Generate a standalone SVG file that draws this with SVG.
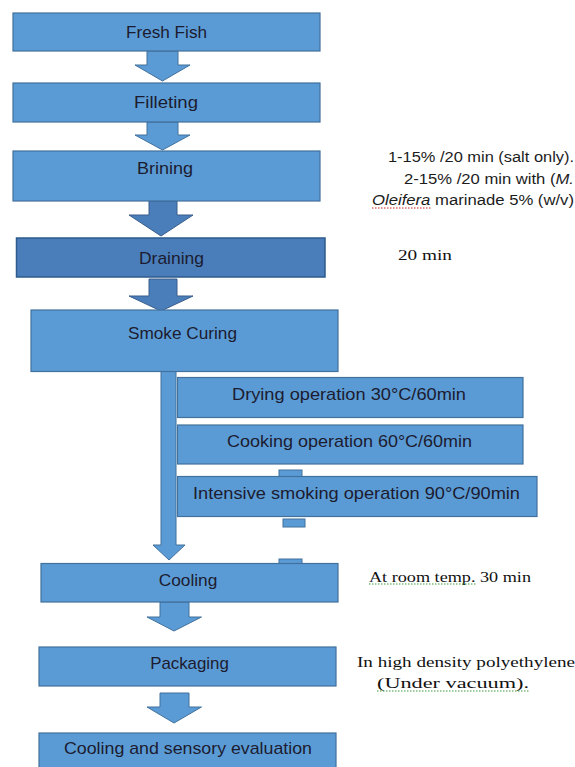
<svg xmlns="http://www.w3.org/2000/svg" width="575" height="767" viewBox="0 0 575 767">
<style>
.box{fill:#5b9bd5;stroke:#41719c;stroke-width:1.2}
.dark{fill:#4a7ebb;stroke:#2f5b8c;stroke-width:1.5}
.arr{fill:#5b9bd5;stroke:#41719c;stroke-width:1}
.darr{fill:#4a7ebb;stroke:#385d8a;stroke-width:1}
.t{font-family:"Liberation Sans",Arial,sans-serif;font-size:17px;fill:#1c1c30;text-anchor:middle}
.n{font-family:"Liberation Sans",Arial,sans-serif;font-size:14px;fill:#1c1c1c}
.s{font-family:"Liberation Serif","Times New Roman",serif;font-size:15px;fill:#111}
.wr{fill:none;stroke:#d02020;stroke-width:1;stroke-dasharray:1.5 1.5}
.wg{fill:none;stroke:#3a9a3a;stroke-width:1;stroke-dasharray:1.5 1.5}
</style>
<rect width="575" height="767" fill="#fff"/>
<g id="connectors">
<polygon class="arr" points="147,51 178,51 178,65 190,65 162.5,81 135,65 147,65"/>
<polygon class="arr" points="147,122 178,122 178,135 190,135 162.5,150 135,135 147,135"/>
<polygon class="darr" points="149,201 177,201 177,215 193,215 161,236 129,215 149,215"/>
<polygon class="darr" points="149,279 177,279 177,296 193,296 161,311 129,296 149,296"/>
<polygon class="arr" points="161,370 176,370 176,545 185,545 169,560 153,545 161,545"/>
<rect class="arr" x="279" y="470" width="23" height="7"/>
<rect class="arr" x="283" y="519" width="22" height="8"/>
<rect class="arr" x="279" y="559" width="23" height="5"/>
<polygon class="arr" points="160,602 189,602 189,617 201.5,617 174,631 147,617 160,617"/>
<polygon class="arr" points="160,693 189,693 189,707 201.5,707 174,723 147,707 160,707"/>
</g>
<g id="fresh-fish"><rect class="box" x="13" y="13" width="307" height="38"/><text class="t" x="166.5" y="38" textLength="81" lengthAdjust="spacingAndGlyphs">Fresh Fish</text></g>
<g id="filleting"><rect class="box" x="13" y="83" width="307" height="39"/><text class="t" x="166" y="108" textLength="64" lengthAdjust="spacingAndGlyphs">Filleting</text></g>
<g id="brining"><rect class="box" x="13" y="151" width="307" height="50"/><text class="t" x="165" y="174" textLength="56" lengthAdjust="spacingAndGlyphs">Brining</text></g>
<g id="draining"><rect class="dark" x="16.5" y="238" width="308.5" height="39"/><text class="t" x="171.5" y="264" textLength="65" lengthAdjust="spacingAndGlyphs">Draining</text></g>
<g id="smoke-curing"><rect class="box" x="31" y="310" width="307" height="61.5"/><text class="t" x="182.5" y="339" textLength="109" lengthAdjust="spacingAndGlyphs">Smoke Curing</text></g>
<g id="drying"><rect class="box" x="177.5" y="377.5" width="345.5" height="40"/><text class="t" x="349" y="400" textLength="234" lengthAdjust="spacingAndGlyphs">Drying operation 30°C/60min</text></g>
<g id="cooking"><rect class="box" x="177.5" y="425" width="345.5" height="39"/><text class="t" x="349.5" y="447" textLength="245" lengthAdjust="spacingAndGlyphs">Cooking operation 60°C/60min</text></g>
<g id="intensive"><rect class="box" x="177.5" y="476.5" width="359.5" height="40"/><text class="t" x="356.5" y="499" textLength="327" lengthAdjust="spacingAndGlyphs">Intensive smoking operation 90°C/90min</text></g>
<g id="cooling"><rect class="box" x="41" y="563.5" width="297" height="38.5"/><text class="t" x="188" y="586" textLength="58.6" lengthAdjust="spacingAndGlyphs">Cooling</text></g>
<g id="packaging"><rect class="box" x="39" y="647" width="297" height="39"/><text class="t" x="189.5" y="669" textLength="78.7" lengthAdjust="spacingAndGlyphs">Packaging</text></g>
<g id="final"><rect class="box" x="39" y="733" width="297" height="40"/><text class="t" x="188" y="754" textLength="248" lengthAdjust="spacingAndGlyphs">Cooling and sensory evaluation</text></g>
<g id="notes">
<text class="n" x="388" y="162" textLength="186" lengthAdjust="spacingAndGlyphs">1-15% /20 min (salt only).</text>
<text class="n" x="404" y="183.5" textLength="170" lengthAdjust="spacingAndGlyphs">2-15% /20 min with (<tspan font-style="italic">M.</tspan></text>
<text class="n" x="372" y="205" textLength="202" lengthAdjust="spacingAndGlyphs"><tspan font-style="italic">Oleifera</tspan> marinade 5% (w/v)</text>
<path class="wr" d="M372,208 H431"/>
<text class="s" x="398" y="260" textLength="54" lengthAdjust="spacingAndGlyphs">20 min</text>
<text class="s" x="369" y="581.5" textLength="162" lengthAdjust="spacingAndGlyphs">At room temp. 30 min</text>
<path class="wg" d="M369,584 H477"/>
<text class="s" x="357" y="666.5" textLength="218" lengthAdjust="spacingAndGlyphs">In high density polyethylene</text>
<text class="s" x="377" y="688" textLength="152" lengthAdjust="spacingAndGlyphs">(Under vacuum).</text>
<path class="wg" d="M377,691 H529"/>
</g>
</svg>
